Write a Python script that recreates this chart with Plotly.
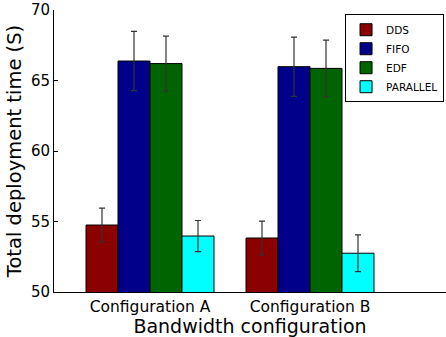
import plotly.graph_objects as go

categories = ["Configuration A", "Configuration B"]
series_names = ["DDS", "FIFO", "EDF", "PARALLEL"]
dds = [54.75, 53.83]
fifo = [66.38, 65.98]
edf = [66.2, 65.86]
parallel = [53.97, 52.75]
dds_err = [1.2, 1.2]
fifo_err = [2.1, 2.1]
edf_err = [1.95, 2.0]
parallel_err = [1.1, 1.3]
y_ticks = [50, 55, 60, 65, 70]

colors = ["#8B0000", "#00008B", "#006400", "#00FFFF"]
values = [dds, fifo, edf, parallel]
errors = [dds_err, fifo_err, edf_err, parallel_err]

fig = go.Figure()
for name, vals, errs, col in zip(series_names, values, errors, colors):
    fig.add_trace(go.Bar(
        x=categories, y=vals, name=name,
        marker=dict(color=col, line=dict(color="black", width=1)),
        error_y=dict(type="data", array=errs, color="#333333", thickness=1.2, width=3),
    ))

fig.update_layout(
    width=446, height=337,
    margin=dict(l=54, r=0, t=10, b=45),
    plot_bgcolor="white", paper_bgcolor="white",
    barmode="group", bargap=0.2, bargroupgap=0,
    font=dict(family="DejaVu Sans", size=13, color="black"),
    showlegend=True,
    legend=dict(
        x=0.995, y=0.985, xanchor="right", yanchor="top",
        bordercolor="black", borderwidth=1, bgcolor="white",
        font=dict(size=10.5), tracegroupgap=0, itemwidth=30,
    ),
    xaxis=dict(
        range=[-0.6, 1.85], showline=True, linecolor="black", linewidth=1,
        ticks="", showgrid=False, zeroline=False, automargin=False,
        title=dict(text="Bandwidth configuration", font=dict(size=19), standoff=0),
        tickfont=dict(size=15.5),
    ),
    yaxis=dict(
        range=[50, 70], tickvals=y_ticks, showline=True, linecolor="black", linewidth=1,
        ticks="inside", ticklen=4, tickcolor="black", showgrid=False, zeroline=False,
        automargin=False,
        title=dict(text="Total deployment time (S)", font=dict(size=19.5), standoff=4),
        tickfont=dict(size=15),
    ),
)

fig.write_html(
    "out.html",
    config={"displayModeBar": False},
    post_script="document.body.style.margin='0';document.body.style.overflow='hidden';",
)
